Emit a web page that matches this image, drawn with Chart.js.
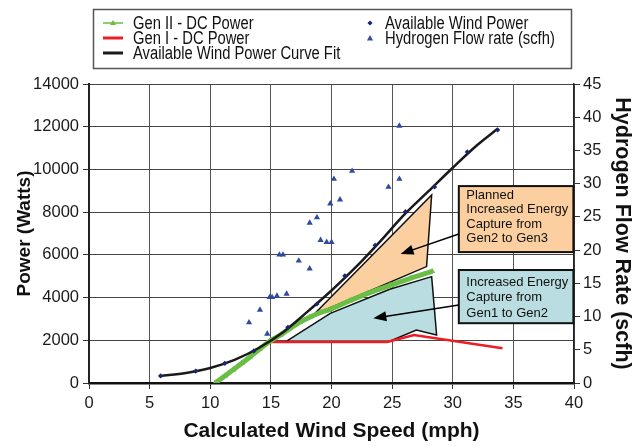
<!DOCTYPE html>
<html lang="en">
<head>
<meta charset="UTF-8">
<title>Wind Power and Hydrogen Flow vs Wind Speed</title>
<script src="https://cdn.jsdelivr.net/npm/chart.js"></script>
<style>
  html, body { margin: 0; padding: 0; background: #fff; }
  #wrap { width: 635px; height: 446px; }
</style>
</head>
<body>
<div id="wrap"><canvas id="windChart"></canvas></div>
<script>
// Available wind power (diamonds), Watts against mph
const windSpeed = [5.9, 8.8, 11.2, 13.6, 16.4, 18.8, 21.1, 23.6, 26.1, 28.5, 31.2, 33.7];
const windPower = [330, 560, 920, 1500, 2610, 3700, 5020, 6450, 8020, 9180, 10820, 11850];

// curve fit through the diamonds
const fitSpeed = [5.9, 8, 10, 12, 14, 16, 18, 20, 22, 24, 26, 28, 30, 32, 33.7];
const fitPower = [330, 470, 700, 1080, 1640, 2380, 3330, 4330, 5420, 6620, 7880, 8980, 10080, 11130, 11900];

// Gen II DC power (green band)
const gen2Speed = [10.4, 11.2, 11.9, 12.6, 13.3, 14.1, 14.9, 15.8, 16.6, 17.4, 18.2, 19.1, 19.9, 21.5, 23.0, 24.8, 26.5, 28.3];
const gen2Power = [0, 330, 620, 920, 1230, 1600, 1950, 2250, 2560, 2850, 3080, 3300, 3450, 3850, 4200, 4560, 4900, 5230];

// Gen I DC power (red)
const gen1Speed = [14.9, 24.6, 26.8, 34.1];
const gen1Power = [1920, 1920, 2250, 1630];

// Hydrogen flow rate (scfh), right axis
const h2Speed = [13.2, 14.1, 14.7, 14.9, 15.1, 15.5, 16.3, 15.7, 16.0, 17.3, 18.2, 18.2, 18.8, 19.1, 19.6, 20.0, 19.9, 20.2, 20.7, 21.7, 24.7, 25.6, 25.6];
const h2Flow = [9.1, 11.0, 7.4, 12.9, 12.9, 13.1, 13.4, 19.3, 19.3, 18.4, 17.2, 24.1, 24.9, 21.5, 21.2, 21.2, 27.0, 30.7, 27.6, 31.9, 29.5, 30.7, 38.7];

// shaded areas (polygon corners)
const planSpeed = [18.5, 28.26, 27.84, 19.8, 18.5];
const planPower = [3180, 8800, 5450, 3500, 3180];
const gainSpeed = [16.3, 19.9, 24.8, 28.26, 28.67, 27.0, 24.8, 16.3];
const gainPower = [1960, 3260, 4390, 4980, 2250, 2480, 1960, 1960];

// callout boxes: [left, right, bottom, top] in mph / Watts
const planBox = [30.5, 39.95, 6130, 9220];
const gainBox = [30.5, 39.95, 2800, 5290];
const planText = ['Planned', 'Increased Energy', 'Capture from', 'Gen2 to Gen3'];
const gainText = ['Increased Energy', 'Capture from', 'Gen1 to Gen2'];
// arrows: [fromX, fromY, toX, toY]
const planArrow = [30.5, 6980, 25.7, 6040];
const gainArrow = [30.5, 3650, 23.45, 3030];

const SANS = "'Liberation Sans', Arial, sans-serif";

function pts(xs, ys) {
  return xs.map((x, i) => ({ x: x, y: ys[i] }));
}

function arrow(ctx, x1, y1, x2, y2) {
  const a = Math.atan2(y2 - y1, x2 - x1);
  const len = 13, half = 5;
  ctx.beginPath();
  ctx.moveTo(x1, y1);
  ctx.lineTo(x2 - Math.cos(a) * len * 0.8, y2 - Math.sin(a) * len * 0.8);
  ctx.stroke();
  ctx.beginPath();
  ctx.moveTo(x2, y2);
  ctx.lineTo(x2 - Math.cos(a) * len - Math.sin(a) * half, y2 - Math.sin(a) * len + Math.cos(a) * half);
  ctx.lineTo(x2 - Math.cos(a) * len + Math.sin(a) * half, y2 - Math.sin(a) * len - Math.cos(a) * half);
  ctx.closePath();
  ctx.fill();
}

function callout(ctx, sx, sy, box, fill, lines, offsets) {
  const l = sx.getPixelForValue(box[0]), r = sx.getPixelForValue(box[1]);
  const b = sy.getPixelForValue(box[2]), t = sy.getPixelForValue(box[3]);
  ctx.fillStyle = fill;
  ctx.fillRect(l, t, r - l, b - t);
  ctx.strokeStyle = '#111';
  ctx.lineWidth = 2;
  ctx.strokeRect(l, t, r - l, b - t);
  ctx.fillStyle = '#111';
  ctx.font = '13px ' + SANS;
  ctx.textBaseline = 'alphabetic';
  ctx.textAlign = 'left';
  lines.forEach((s, i) => ctx.fillText(s, l + 7.5, t + offsets[i]));
}

const overlay = {
  id: 'overlay',
  beforeDraw(chart) {
    const ctx = chart.ctx;
    ctx.save();
    ctx.fillStyle = '#fff';
    ctx.fillRect(0, 0, chart.width, chart.height);
    ctx.restore();
  },
  afterDatasetsDraw(chart) {
    const ctx = chart.ctx, sx = chart.scales.x, sy = chart.scales.y;
    ctx.save();
    callout(ctx, sx, sy, planBox, '#fbcf9f', planText, [13, 27.3, 41.6, 55.8]);
    callout(ctx, sx, sy, gainBox, '#b9dde1', gainText, [16, 30.5, 46.5]);
    ctx.strokeStyle = '#000';
    ctx.fillStyle = '#000';
    ctx.lineWidth = 1.5;
    [planArrow, gainArrow].forEach(a => arrow(ctx,
      sx.getPixelForValue(a[0]), sy.getPixelForValue(a[1]),
      sx.getPixelForValue(a[2]), sy.getPixelForValue(a[3])));
    ctx.restore();
  },
  afterDraw(chart) {
    // two-column legend box above the plot
    const ctx = chart.ctx, ds = chart.data.datasets;
    ctx.save();
    ctx.strokeStyle = '#555';
    ctx.lineWidth = 1.5;
    ctx.strokeRect(93.5, 9.5, 478, 59);
    const slots = [[0, 103, 23], [3, 370, 23], [1, 103, 38], [4, 370, 38], [2, 103, 53]];
    slots.forEach(([i, x, y]) => {
      const d = ds[i];
      let tx;
      if (d.showLine === false) {
        ctx.fillStyle = d.backgroundColor;
        ctx.beginPath();
        if (d.pointStyle === 'rectRot') {
          ctx.moveTo(x, y - 2.6); ctx.lineTo(x + 2.6, y); ctx.lineTo(x, y + 2.6); ctx.lineTo(x - 2.6, y);
        } else {
          ctx.moveTo(x, y - 3); ctx.lineTo(x + 3, y + 2.5); ctx.lineTo(x - 3, y + 2.5);
        }
        ctx.closePath();
        ctx.fill();
        tx = x + 15;
      } else {
        ctx.strokeStyle = d.borderColor;
        ctx.lineWidth = i === 0 ? 1.5 : 3;
        ctx.beginPath();
        ctx.moveTo(x, y); ctx.lineTo(x + 20, y);
        ctx.stroke();
        if (i === 0) {
          ctx.fillStyle = d.borderColor;
          ctx.beginPath();
          ctx.moveTo(x + 10, y - 3); ctx.lineTo(x + 13, y + 2); ctx.lineTo(x + 7, y + 2);
          ctx.closePath();
          ctx.fill();
        }
        tx = x + 30;
      }
      // legend text in the original is condensed: squeeze it horizontally
      ctx.save();
      ctx.translate(tx, y + 1);
      ctx.scale(0.82, 1);
      ctx.font = '18px ' + SANS;
      ctx.textBaseline = 'middle';
      ctx.textAlign = 'left';
      ctx.fillStyle = '#111';
      ctx.fillText(d.label, 0, 0);
      ctx.restore();
    });
    ctx.restore();
  }
};

const tickFont = { family: SANS, size: 16.5 };
const plain = v => String(v);

new Chart(document.getElementById('windChart'), {
  type: 'line',
  data: {
    datasets: [
      {
        label: 'Gen II - DC Power', data: pts(gen2Speed, gen2Power), yAxisID: 'y',
        borderColor: '#6abd45', backgroundColor: '#6abd45', borderWidth: 5,
        pointStyle: 'triangle', pointRadius: 3.5, pointBorderWidth: 0,
        cubicInterpolationMode: 'monotone', order: 3
      },
      {
        label: 'Gen I - DC Power', data: pts(gen1Speed, gen1Power), yAxisID: 'y',
        borderColor: '#ee1c24', backgroundColor: '#ee1c24', borderWidth: 2.5,
        pointRadius: 0, tension: 0, order: 4
      },
      {
        label: 'Available Wind Power Curve Fit', data: pts(fitSpeed, fitPower), yAxisID: 'y',
        borderColor: '#1a1a1a', backgroundColor: '#1a1a1a', borderWidth: 2.5,
        pointRadius: 0, cubicInterpolationMode: 'monotone', order: 2
      },
      {
        label: 'Available Wind Power', data: pts(windSpeed, windPower), yAxisID: 'y',
        showLine: false, pointStyle: 'rectRot', pointRadius: 2.6, pointBorderWidth: 0,
        backgroundColor: '#1c2474', borderColor: '#1c2474', order: 1
      },
      {
        label: 'Hydrogen Flow rate (scfh)', data: pts(h2Speed, h2Flow), yAxisID: 'y2',
        showLine: false, pointStyle: 'triangle', pointRadius: 3.6, pointBorderWidth: 0,
        backgroundColor: '#2f4a9e', borderColor: '#2f4a9e', order: 1
      },
      {
        label: 'Planned gain', data: pts(planSpeed, planPower), yAxisID: 'y',
        borderColor: '#111', backgroundColor: '#fbcf9f', borderWidth: 1.5,
        pointRadius: 0, tension: 0, fill: 'shape', order: 10
      },
      {
        label: 'Gen1 to Gen2 gain', data: pts(gainSpeed, gainPower), yAxisID: 'y',
        borderColor: '#111', backgroundColor: '#b9dde1', borderWidth: 1.5,
        pointRadius: 0, tension: 0, fill: 'shape', order: 10
      }
    ]
  },
  options: {
    responsive: true,
    maintainAspectRatio: false,
    animation: false,
    layout: { padding: { top: 84, left: 0, right: 0, bottom: 0 } },
    plugins: {
      legend: { display: false },
      tooltip: { enabled: false }
    },
    scales: {
      x: {
        type: 'linear', min: 0, max: 40,
        ticks: { stepSize: 5, color: '#1a1a1a', font: tickFont, padding: 5, maxRotation: 0, callback: plain },
        grid: { color: '#555', lineWidth: 1, tickLength: 6, tickColor: '#333' },
        border: { color: '#111', width: 2.5 },
        title: { display: true, text: 'Calculated Wind Speed (mph)', color: '#111',
          font: { family: SANS, size: 21, weight: 'bold' }, padding: { top: 0, bottom: 2 } },
        afterFit(scale) { scale.height = 63; }
      },
      y: {
        position: 'left', min: 0, max: 14000,
        ticks: { stepSize: 2000, color: '#1a1a1a', font: tickFont, padding: 4, callback: plain },
        grid: { color: '#444', lineWidth: 1, tickLength: 6, tickColor: '#333' },
        border: { color: '#222', width: 2 },
        title: { display: true, text: 'Power (Watts)', color: '#111',
          font: { family: SANS, size: 19, weight: 'bold' }, padding: { top: 13, bottom: 0 } },
        afterFit(scale) { scale.width = 89; }
      },
      y2: {
        position: 'right', min: 0, max: 45,
        ticks: { stepSize: 5, color: '#1a1a1a', font: tickFont, padding: 3, callback: plain },
        grid: { drawOnChartArea: false, tickLength: 6, tickColor: '#333' },
        border: { color: '#222', width: 1.5 },
        title: { display: true, text: 'Hydrogen Flow Rate (scfh)', color: '#111',
          font: { family: SANS, size: 21.5, weight: 'bold' }, padding: { top: 0, bottom: 0 } },
        afterFit(scale) { scale.width = 61; }
      }
    }
  },
  plugins: [overlay]
});
</script>
</body>
</html>
